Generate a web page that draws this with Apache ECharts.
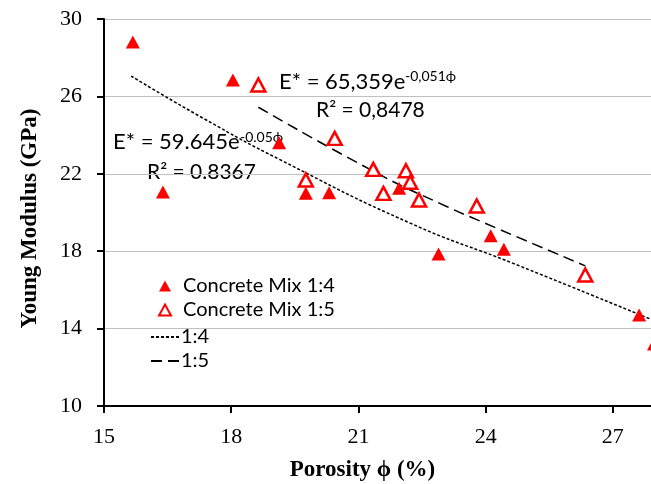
<!DOCTYPE html>
<html>
<head>
<meta charset="utf-8">
<script src="https://cdn.jsdelivr.net/npm/echarts@6/dist/echarts.min.js"></script>
<style>
  html, body { margin: 0; padding: 0; background: #fff; }
  #main { width: 651px; height: 484px; }
</style>
</head>
<body>
<div id="main"></div>
<script>
// Concrete Mix 1:4 (filled triangles)
var mix14X = [15.68, 18.04, 19.13, 16.39, 19.76, 20.31, 21.96, 22.89, 24.12, 24.43, 27.62, 27.97];
var mix14Y = [28.81, 26.85, 23.61, 21.06, 20.99, 21.02, 21.25, 17.86, 18.80, 18.10, 14.70, 13.20];
// Concrete Mix 1:5 (hollow triangles)
var mix15X = [18.64, 20.44, 19.76, 21.35, 21.59, 22.12, 22.22, 22.43, 23.79, 26.35];
var mix15Y = [26.59, 23.83, 21.68, 22.23, 20.99, 22.16, 21.56, 20.65, 20.34, 16.77];
// trend lines
var fit14X = [15.64, 17.38, 19.15, 22.22, 24.65, 27.9];
var fit14Y = [27.05, 24.82, 22.73, 19.45, 17.37, 14.48];
var fit15X = [18.64, 21.51, 23.08, 23.79, 26.35];
var fit15Y = [25.44, 21.95, 20.31, 19.63, 17.24];

var zip = function(xs, ys){
    var res = [];
    for (var i = 0; i < xs.length; i++) {
        res.push([xs[i], ys[i]]);
    }
    return res;
};

var serif = '"Liberation Serif", "Times New Roman", serif';
var sans = 'Lato, "Liberation Sans", sans-serif';

var myChart = echarts.init(document.getElementById('main'));
var option = {
    animation: false,
    grid: { left: 104, right: 0, top: 19, bottom: 78, outerBoundsMode: 'none', containLabel: false },
    legend: [{
        // markers
        orient: 'vertical',
        left: 153,
        top: 271,
        itemWidth: 12,
        itemHeight: 11,
        itemGap: 4,
        textStyle: { color: '#000', fontFamily: sans, fontSize: 20, padding: [0, 0, 0, 7] },
        data: ['Concrete Mix 1:4', 'Concrete Mix 1:5']
    }, {
        // trend lines
        orient: 'vertical',
        left: 145,
        top: 322,
        itemWidth: 28,
        itemHeight: 12,
        itemGap: 4,
        itemStyle: { opacity: 0 },
        textStyle: { color: '#000', fontFamily: sans, fontSize: 20, padding: [0, 0, 0, -3] },
        data: ['1:4', '1:5']
    }],
    xAxis: {
        type: 'value',
        min: 15,
        max: 27.9,
        interval: 3,
        name: 'Porosity ϕ (%)',
        nameLocation: 'middle',
        nameGap: 53,
        nameTextStyle: { color: '#000', fontFamily: serif, fontSize: 23, fontWeight: 'bold', padding: [0, 30, 0, 0] },
        axisLine: { show: true, lineStyle: { color: '#000', width: 2 } },
        axisTick: { show: true, inside: false, length: 7, lineStyle: { color: '#000', width: 2 } },
        axisLabel: { color: '#000', fontFamily: serif, fontSize: 22, margin: 20, showMaxLabel: false },
        splitLine: { show: false }
    },
    yAxis: {
        type: 'value',
        min: 10,
        max: 30,
        interval: 4,
        name: 'Young Modulus (GPa)',
        nameLocation: 'middle',
        nameGap: 62,
        nameRotate: 90,
        nameTextStyle: { color: '#000', fontFamily: serif, fontSize: 23, fontWeight: 'bold', padding: [0, 12, 0, 0] },
        axisLine: { show: true, lineStyle: { color: '#000', width: 2 } },
        axisTick: { show: true, inside: false, length: 7, lineStyle: { color: '#000', width: 2 } },
        axisLabel: { color: '#000', fontFamily: serif, fontSize: 22, margin: 22 },
        splitLine: { show: true, lineStyle: { color: '#c0c0c0', width: 1 } }
    },
    graphic: [
        { type: 'text', x: 279, y: 82, style: { text: 'E* = 65,359e', font: '22px ' + sans, fill: '#000', verticalAlign: 'middle' } },
        { type: 'text', x: 405, y: 76, style: { text: '-0,051ϕ', font: '14px ' + sans, fill: '#000', verticalAlign: 'middle' } },
        { type: 'text', x: 316, y: 110, style: { text: 'R² = 0,8478', font: '21px ' + sans, fill: '#000', verticalAlign: 'middle' } },
        { type: 'text', x: 113, y: 142, style: { text: 'E* = 59.645e', font: '22px ' + sans, fill: '#000', verticalAlign: 'middle' } },
        { type: 'text', x: 240, y: 137, style: { text: '-0.05ϕ', font: '14px ' + sans, fill: '#000', verticalAlign: 'middle' } },
        { type: 'text', x: 147, y: 172, style: { text: 'R² = 0.8367', font: '21px ' + sans, fill: '#000', verticalAlign: 'middle' } }
    ],
    series: [
        {
            name: 'Concrete Mix 1:4',
            type: 'scatter',
            symbol: 'triangle',
            symbolSize: [14, 13],
            clip: false,
            itemStyle: { color: '#ff0000', opacity: 1 },
            data: zip(mix14X, mix14Y),
            z: 3
        },
        {
            name: 'Concrete Mix 1:5',
            type: 'scatter',
            symbol: 'triangle',
            symbolSize: [14, 13],
            clip: false,
            itemStyle: { color: '#ffffff', borderColor: '#ff0000', borderWidth: 2.5, opacity: 1 },
            data: zip(mix15X, mix15Y),
            z: 3
        },
        {
            name: '1:4',
            type: 'line',
            smooth: true,
            symbol: 'none',
            color: '#000',
            lineStyle: { color: '#000', width: 1.5, type: [3, 2] },
            data: zip(fit14X, fit14Y),
            z: 2
        },
        {
            name: '1:5',
            type: 'line',
            smooth: true,
            symbol: 'none',
            color: '#000',
            lineStyle: { color: '#000', width: 1.5, type: [11, 6] },
            data: zip(fit15X, fit15Y),
            z: 2
        }
    ]
};
myChart.setOption(option);
</script>
</body>
</html>
